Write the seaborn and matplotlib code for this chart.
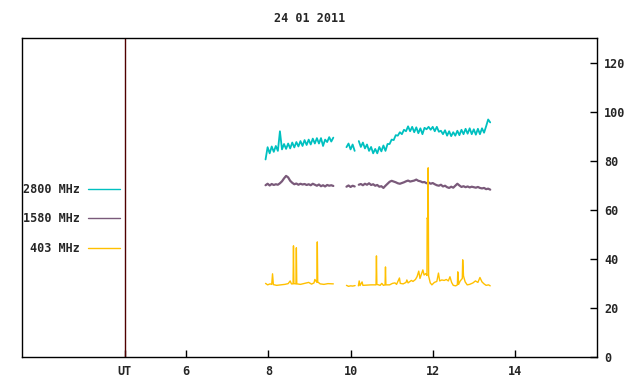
import numpy as np
import pandas as pd
import matplotlib
matplotlib.use("Agg")
import matplotlib.pyplot as plt
import seaborn as sns
from matplotlib.lines import Line2D

# ---------------- data ----------------
title = "24 01 2011"
bands = ["2800 MHz", "1580 MHz", "403 MHz"]
colors = {"2800 MHz": "#00c0c0", "1580 MHz": "#7a5a7a", "403 MHz": "#ffc000"}
x_ticks = [4.5, 6, 8, 10, 12, 14]
x_tick_labels = ["UT", "6", "8", "10", "12", "14"]
y_ticks = [0, 20, 40, 60, 80, 100, 120]

# sampling grid of the 2800 / 1580 MHz records (hours UT)
t_seg1 = np.round(np.linspace(7.93, 9.58, 34), 2)
t_seg2 = np.round(np.linspace(9.90, 13.40, 71), 2)

f2800_seg1 = [80.5, 85.5, 83.0, 85.8, 83.6, 86.0, 84.0, 92.0, 84.6, 86.8,
              84.8, 87.0, 85.0, 87.4, 85.4, 87.6, 85.8, 88.0, 86.0, 88.4,
              86.4, 88.6, 86.6, 89.0, 87.0, 89.2, 87.0, 89.2, 86.0, 88.6,
              87.6, 89.6, 87.8, 89.4]
f2800_seg2 = [85.5, 87.0, 84.6, 86.6, 84.0, np.nan, 88.0, 85.6, 87.4, 85.0,
              86.6, 84.0, 85.6, 83.0, 84.8, 83.0, 85.6, 83.8, 86.2, 84.0,
              86.8, 86.8, 88.6, 88.4, 90.4, 90.2, 91.6, 90.8, 92.6, 92.0,
              94.0, 92.0, 93.8, 91.6, 93.6, 91.2, 93.2, 90.8, 93.4, 92.8,
              93.8, 92.6, 93.8, 92.0, 93.8, 91.8, 92.2, 90.8, 92.4, 90.2,
              92.0, 90.0, 91.6, 90.2, 92.2, 90.4, 92.6, 90.8, 93.0, 91.0,
              93.2, 90.8, 92.8, 90.6, 93.0, 90.8, 93.2, 91.4, 94.0, 96.8,
              95.6]

f1580_seg1 = [70.0, 70.6, 69.9, 70.5, 70.1, 70.4, 70.2, 70.8, 71.6, 72.8,
              73.8, 73.2, 71.8, 71.0, 70.4, 70.7, 70.2, 70.6, 70.3, 70.5,
              70.1, 70.4, 70.0, 70.6, 70.2, 69.8, 70.3, 69.6, 70.0, 69.5,
              70.1, 69.8, 70.0, 69.7]
f1580_seg2 = [69.4, 69.9, 69.3, 69.8, 69.5, np.nan, 70.2, 70.5, 70.0, 70.6,
              70.2, 70.8, 70.1, 70.4, 69.8, 70.1, 69.4, 69.6, 68.9, 69.8,
              70.6, 71.4, 71.8, 71.5, 71.2, 70.8, 70.6, 70.9, 71.2, 71.6,
              71.9, 71.5, 71.7, 71.9, 72.3, 71.8, 71.6, 71.2, 71.3, 70.8,
              71.1, 70.6, 70.9, 70.4, 70.0, 69.8, 70.2, 69.5, 69.8, 69.2,
              68.9, 69.4, 69.0, 69.8, 70.6, 69.9, 69.3, 69.6, 69.2, 69.5,
              69.1, 69.4, 69.2, 69.0, 69.3, 68.9, 68.7, 68.9, 68.4, 68.6,
              68.2]

# 403 MHz record (irregular times, hours UT)
t403_seg1 = [7.93, 7.98, 8.04, 8.08, 8.10, 8.12, 8.20, 8.30, 8.40, 8.48,
             8.53, 8.56, 8.60, 8.61, 8.62, 8.67, 8.68, 8.69, 8.78, 8.88,
             8.98, 9.05, 9.11, 9.13, 9.18, 9.19, 9.20, 9.26, 9.35, 9.45,
             9.58]
f403_seg1 = [30.0, 29.4, 29.8, 29.6, 33.9, 29.5, 29.2, 29.4, 29.6, 29.9,
             31.0, 29.8, 29.8, 45.3, 29.9, 29.8, 44.5, 29.8, 29.6, 30.0,
             30.4, 29.7, 30.2, 31.6, 30.4, 46.9, 30.6, 29.8, 29.6, 29.9,
             29.8]
t403_seg2 = [9.90, 9.95, 10.00, 10.05, 10.11, 10.15, 10.19, 10.21, 10.23, 10.28,
             10.30, 10.40, 10.50, 10.62, 10.63, 10.64, 10.72, 10.76, 10.80, 10.84,
             10.85, 10.86, 10.95, 11.02, 11.08, 11.12, 11.19, 11.21, 11.28, 11.35,
             11.37, 11.40, 11.48, 11.52, 11.58, 11.62, 11.66, 11.69, 11.72, 11.76,
             11.79, 11.83, 11.86, 11.865, 11.88, 11.89, 11.90, 11.94, 11.98, 12.04,
             12.10, 12.14, 12.17, 12.22, 12.28, 12.33, 12.38, 12.42, 12.46, 12.50,
             12.56, 12.60, 12.61, 12.63, 12.67, 12.72, 12.73, 12.75, 12.79, 12.84,
             12.90, 12.98, 13.04, 13.10, 13.15, 13.20, 13.25, 13.30, 13.36, 13.40]
f403_seg2 = [29.2, 28.8, 29.0, 28.9, 29.1, np.nan, 29.0, 31.0, 29.1, 30.6,
             29.2, 29.3, 29.4, 29.4, 41.2, 29.6, 29.2, 30.0, 29.2, 29.4,
             36.7, 29.4, 29.4, 30.0, 30.2, 29.6, 32.2, 30.0, 29.8, 30.4,
             31.4, 30.2, 31.2, 30.8, 31.6, 32.8, 35.0, 32.0, 33.5, 35.5,
             33.4, 34.0, 33.2, 56.7, 56.0, 77.1, 33.0, 30.2, 29.4, 30.4,
             30.8, 34.2, 31.0, 31.4, 31.2, 31.6, 31.0, 32.7, 30.4, 29.2,
             29.0, 29.4, 34.7, 29.6, 31.0, 32.0, 39.6, 33.0, 30.6, 29.4,
             29.6, 30.2, 31.0, 30.4, 32.4, 30.6, 29.8, 29.2, 29.4, 29.0]


def build(segments):
    frames = []
    seg_id = 0
    for t, v in segments:
        d = pd.DataFrame({"t": np.asarray(t, float), "v": np.asarray(v, float)})
        d["seg"] = seg_id + d["v"].isna().cumsum()
        seg_id = d["seg"].max() + 1
        frames.append(d.dropna())
    return pd.concat(frames, ignore_index=True)


series = {
    "2800 MHz": build([(t_seg1, f2800_seg1), (t_seg2, f2800_seg2)]),
    "1580 MHz": build([(t_seg1, f1580_seg1), (t_seg2, f1580_seg2)]),
    "403 MHz": build([(t403_seg1, f403_seg1), (t403_seg2, f403_seg2)]),
}
widths = {"2800 MHz": 1.3, "1580 MHz": 1.6, "403 MHz": 1.0}

# ---------------- plot ----------------
sns.set_theme(style="white")
plt.rcParams["font.family"] = ["DejaVu Sans Mono"]
plt.rcParams["font.weight"] = "bold"
FS = 8.5

fig = plt.figure(figsize=(6.4, 3.84), dpi=100)
ax = fig.add_axes([22 / 640, 27 / 384, 575 / 640, 319 / 384])

for b in bands:
    sns.lineplot(data=series[b], x="t", y="v", units="seg", estimator=None,
                 sort=False, color=colors[b], lw=widths[b], ax=ax, legend=False)

ax.axvline(4.5, color="#500000", lw=1)

ax.set_xlim(2, 16)
ax.set_ylim(0, 130)
ax.set_xlabel("")
ax.set_ylabel("")
ax.set_xticks(x_ticks)
ax.set_xticklabels(x_tick_labels, fontsize=FS, fontweight="bold")
ax.yaxis.tick_right()
ax.set_yticks(y_ticks)
ax.set_yticklabels([str(y) for y in y_ticks], fontsize=FS, fontweight="bold")
ax.tick_params(axis="x", bottom=True, top=False, direction="in", length=5,
               width=1, color="black", pad=6)
ax.tick_params(axis="y", left=False, right=True, labelleft=False, labelright=True,
               direction="in", length=5, width=1, color="black", pad=5)
for s in ax.spines.values():
    s.set_color("black")
    s.set_linewidth(1)
ax.grid(False)

handles = [Line2D([], [], color=colors[b], lw=1) for b in bands]
ax.legend(handles, bands, loc="center right",
          bbox_to_anchor=((120 - 22) / 575, (357 - 219) / 319),
          frameon=False, markerfirst=False, handlelength=2.7,
          handletextpad=0.7, labelspacing=1.4, borderpad=0, borderaxespad=0,
          prop={"family": "DejaVu Sans Mono", "weight": "bold", "size": FS})

fig.text(309.5 / 640, 1 - 19 / 384, title, ha="center", va="center",
         fontsize=FS, fontweight="bold")

fig.savefig("out.png", dpi=100)
